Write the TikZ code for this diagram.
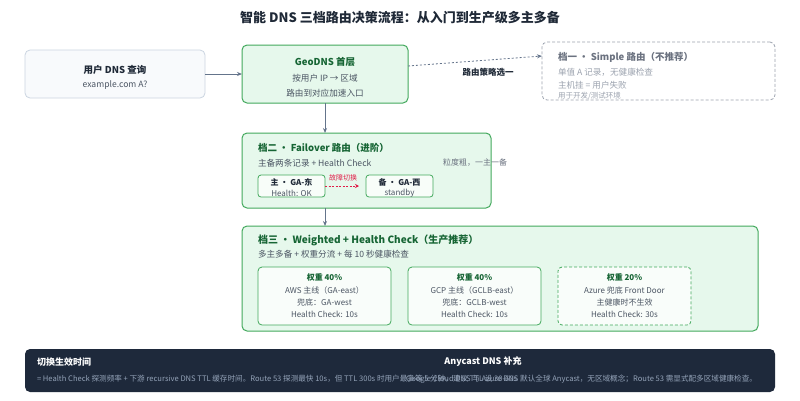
\documentclass[tikz,border=0pt]{standalone}
\usepackage{fontspec}
\setmainfont{Noto Sans CJK SC}
\usetikzlibrary{arrows.meta}
\definecolor{gborder}{HTML}{43A95D}
\definecolor{gfill}{HTML}{E6F8EC}
\definecolor{gdark}{HTML}{166534}
\definecolor{tgray}{HTML}{4B5563}
\definecolor{lgray}{HTML}{9CA3AF}
\definecolor{mgray}{HTML}{6B7280}
\definecolor{arrowgray}{HTML}{64748B}
\definecolor{ubfill}{HTML}{F8FAFC}
\definecolor{ubborder}{HTML}{CBD5E1}
\definecolor{darkband}{HTML}{1E293B}
\definecolor{bandtext}{HTML}{94A3B8}
\definecolor{failred}{HTML}{E11D48}
\definecolor{titlec}{HTML}{1F2937}
\begin{document}
\begin{tikzpicture}[x=1pt,y=-1pt,
  every node/.style={inner sep=0pt, outer sep=0pt},
  ubox/.style={draw=ubborder, fill=ubfill, rounded corners=5pt, line width=0.8pt},
  gbox/.style={draw=gborder, fill=gfill, rounded corners=5pt, line width=1pt},
  sbox/.style={draw=lgray, fill=white, rounded corners=5pt, line width=0.8pt, dash pattern=on 3pt off 2pt},
  minibox/.style={draw=gborder, fill=white!70!gfill, rounded corners=3pt, line width=0.8pt},
  card/.style={draw=gborder, fill=white!75!gfill, rounded corners=4pt, line width=0.8pt},
  dcard/.style={card, dash pattern=on 3pt off 2pt},
  band/.style={fill=darkband, rounded corners=5pt},
  conn/.style={draw=arrowgray, line width=0.9pt, -{Stealth[length=5pt,width=4pt]}},
  tbold/.style={font=\fontsize{9.5}{11}\selectfont\bfseries},
  tbody/.style={font=\fontsize{8.6}{10}\selectfont, text=tgray},
  tsmall/.style={font=\fontsize{8}{9}\selectfont, text=tgray},
]
\useasboundingbox (0,0) rectangle (800,400);
\fill[white] (0,0) rectangle (800,400);

% title
\node[font=\fontsize{13}{15}\selectfont\bfseries, text=titlec] (title) at (400,18) {智能 DNS 三档路由决策流程：从入门到生产级多主多备};

% user
\node[ubox, minimum width=180pt, minimum height=48pt] (user) at (115,74) {};
\node[tbold, text=titlec] (userT) at (115,70) {用户 DNS 查询};
\node[tbody] (userS) at (115,85) {example.com A?};

% geo
\node[gbox, minimum width=166pt, minimum height=58pt] (geo) at (325,74) {};
\node[tbold, text=gdark] (geoT) at (325,62) {GeoDNS 首层};
\node[tbody] (geoS1) at (325,78) {按用户 IP → 区域};
\node[tbody] (geoS2) at (325,93) {路由到对应加速入口};

% simple
\node[sbox, minimum width=233pt, minimum height=58pt] (simple) at (658.5,71) {};
\node[tbold, text=mgray, anchor=west] (simT) at (558,57) {档一 · Simple 路由（不推荐）};
\node[tbody, text=lgray, anchor=west] (simS1) at (558,72) {单值 A 记录，无健康检查};
\node[tbody, text=lgray, anchor=west] (simS2) at (558,85) {主机挂 = 用户失败};
\node[font=\fontsize{7.5}{8}\selectfont, text=lgray, anchor=west] (simS3) at (558,96) {用于开发/测试环境};

% tier 2
\node[gbox, minimum width=249pt, minimum height=75pt] (t2) at (366.5,170.5) {};
\node[tbold, text=gdark, anchor=west] (t2T) at (258,148) {档二 · Failover 路由（进阶）};
\node[tbody, anchor=west] (t2S) at (258,163) {主备两条记录 + Health Check};
\node[tsmall, text=mgray] (t2N) at (475,163) {粒度粗，一主一备};
\node[minibox, minimum width=67pt, minimum height=22pt] (pri) at (291.5,186) {};
\node[font=\fontsize{8}{9}\selectfont\bfseries, text=titlec] (priT) at (291.5,182) {主 · GA-东};
\node[tsmall] (priS) at (291.5,193) {Health: OK};
\node[minibox, minimum width=67pt, minimum height=22pt] (bak) at (399.5,186) {};
\node[font=\fontsize{8}{9}\selectfont\bfseries, text=titlec] (bakT) at (399.5,182) {备 · GA-西};
\node[tsmall] (bakS) at (399.5,193) {standby};
\coordinate (failEnd) at (359,186);
\draw[draw=failred, line width=0.8pt, dash pattern=on 2pt off 1.5pt, -{Stealth[length=4pt,width=4pt]}] (pri.east) -- (failEnd);
\node[font=\fontsize{7}{8}\selectfont, text=failred] (failL) at (343,178) {故障切换};

% tier 3
\node[gbox, minimum width=516pt, minimum height=105pt] (t3) at (500,278.5) {};
\node[font=\fontsize{10}{12}\selectfont\bfseries, text=gdark, anchor=west] (t3T) at (258,240) {档三 · Weighted + Health Check（生产推荐）};
\node[tbody, anchor=west] (t3S) at (258,254) {多主多备 + 权重分流 + 每 10 秒健康检查};

\node[card, minimum width=133pt, minimum height=58pt] (c1) at (324.5,296) {};
\node[font=\fontsize{8}{9}\selectfont\bfseries, text=gdark] (c1a) at (324.5,277) {权重 40\%};
\node[tsmall] (c1b) at (324.5,290) {AWS 主线（GA-east）};
\node[tsmall] (c1c) at (324.5,302) {兜底：GA-west};
\node[tsmall] (c1d) at (324.5,314) {Health Check: 10s};

\node[card, minimum width=133pt, minimum height=58pt] (c2) at (474.5,296) {};
\node[font=\fontsize{8}{9}\selectfont\bfseries, text=gdark] (c2a) at (474.5,277) {权重 40\%};
\node[tsmall] (c2b) at (474.5,290) {GCP 主线（GCLB-east）};
\node[tsmall] (c2c) at (474.5,302) {兜底：GCLB-west};
\node[tsmall] (c2d) at (474.5,314) {Health Check: 10s};

\node[dcard, minimum width=133pt, minimum height=58pt] (c3) at (624.5,296) {};
\node[font=\fontsize{8}{9}\selectfont\bfseries, text=gdark] (c3a) at (624.5,277) {权重 20\%};
\node[tsmall] (c3b) at (624.5,290) {Azure 兜底 Front Door};
\node[tsmall] (c3c) at (624.5,302) {主健康时不生效};
\node[tsmall] (c3d) at (624.5,314) {Health Check: 30s};

% connectors
\draw[conn] (user.east) -- (geo.west);
\draw[conn] (geo.south) -- (t2.north -| geo.south);
\draw[conn] (t2.south -| geo.south) -- (t3.north -| geo.south);
\coordinate (geoOut) at ([yshift=8pt]geo.east);
\coordinate (simIn) at ([yshift=15pt]simple.west);
\draw[draw=arrowgray, line width=0.8pt, dash pattern=on 2pt off 2pt, -{Stealth[length=5pt,width=4pt]}] (geoOut) -- (simIn);
\node[font=\fontsize{8.5}{10}\selectfont\bfseries, text=titlec] (polL) at (488,72) {路由策略选一};

% bottom band
\node[band, minimum width=750pt, minimum height=43pt] (bandN) at (400,370.5) {};
\node[font=\fontsize{9}{11}\selectfont\bfseries, text=white, anchor=west] (bT1) at (37,362) {切换生效时间};
\node[font=\fontsize{9}{11}\selectfont\bfseries, text=white] (bT2) at (483,362) {Anycast DNS 补充};
\node[font=\fontsize{7.6}{9}\selectfont, text=bandtext, anchor=west] (bS1) at (37,379) {= Health Check 探测频率 + 下游 recursive DNS TTL 缓存时间。Route 53 探测最快 10s，但 TTL 300s 时用户最多等 5 分钟，建议 TTL 设 30-60s};
\node[font=\fontsize{7.6}{9}\selectfont, text=bandtext, anchor=east] (bS2) at (757,379) {Google Cloud DNS 与 Azure DNS 默认全球 Anycast，无区域概念；Route 53 需显式配多区域健康检查。};
\end{tikzpicture}
\end{document}
